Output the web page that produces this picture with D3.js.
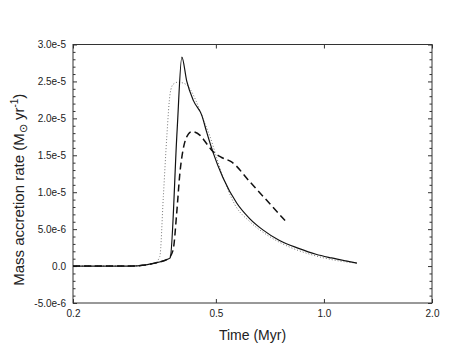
<!DOCTYPE html>
<html>
<head>
<meta charset="utf-8">
<script src="https://cdn.jsdelivr.net/npm/d3@7"></script>
<style>
  body { margin: 0; background: #fff; }
  text { font-family: "Liberation Sans", Arial, Helvetica, sans-serif; fill: #222; }
</style>
</head>
<body>
<svg id="chart" width="458" height="351"></svg>
<script>
// Values
const solidTime = [0.2, 0.288, 0.317, 0.338, 0.368, 0.373, 0.390, 0.402, 0.415, 0.433, 0.457, 0.471, 0.491, 0.523, 0.572, 0.622, 0.676, 0.75, 0.85, 0.95, 1.05, 1.15, 1.236];
const solidRate = [0, 0, 1.4e-7, 4e-7, 9.5e-7, 1.1e-6, 1.84e-5, 2.83e-5, 2.5e-5, 2.24e-5, 2.04e-5, 1.82e-5, 1.54e-5, 1.2e-5, 8.5e-6, 6.4e-6, 4.9e-6, 3.5e-6, 2.4e-6, 1.6e-6, 1.1e-6, 0.7e-6, 0.4e-6];

const dashedTime = [0.2, 0.288, 0.317, 0.338, 0.368, 0.380, 0.389, 0.397, 0.405, 0.413, 0.428, 0.452, 0.475, 0.491, 0.519, 0.553, 0.622, 0.708, 0.788];
const dashedRate = [0, 0, 1.4e-7, 4e-7, 1.0e-6, 2.16e-6, 7.2e-6, 1.26e-5, 1.57e-5, 1.73e-5, 1.82e-5, 1.77e-5, 1.635e-5, 1.55e-5, 1.47e-5, 1.41e-5, 1.14e-5, 8.4e-6, 5.9e-6];

const dottedTime = [0.2, 0.288, 0.317, 0.338, 0.349, 0.357, 0.365, 0.373, 0.380, 0.392, 0.413, 0.426, 0.440, 0.460, 0.481, 0.514, 0.565, 0.622, 0.70, 0.80, 0.90, 1.0, 1.1, 1.236];
const dottedRate = [0, 0, 1.4e-7, 4e-7, 1.3e-6, 9.4e-6, 1.75e-5, 2.34e-5, 2.46e-5, 2.49e-5, 2.46e-5, 2.38e-5, 2.24e-5, 2.0e-5, 1.76e-5, 1.32e-5, 8.3e-6, 6.0e-6, 4.1e-6, 2.6e-6, 1.7e-6, 1.1e-6, 0.7e-6, 0.4e-6];

const xTicks = [0.2, 0.5, 1.0, 2.0];
const yTicks = [-5e-6, 0, 5e-6, 1e-5, 1.5e-5, 2e-5, 2.5e-5, 3e-5];
const yTickLabels = ['-5.0e-6', '0.0', '5.0e-6', '1.0e-5', '1.5e-5', '2.0e-5', '2.5e-5', '3.0e-5'];
const yMinorTicks = d3.range(-4, 30).filter((d) => d % 5 !== 0).map((d) => d * 1e-6);

const svg = d3.select('#chart');

// plot frame
const margin = { top: 44.5, right: 26, bottom: 48, left: 73 };
const width = 458, height = 351;
const innerWidth = width - margin.left - margin.right;
const innerHeight = height - margin.top - margin.bottom;

const x = d3.scaleLog().domain([0.2, 2.0]).range([0, innerWidth]);
const y = d3.scaleLinear().domain([-5e-6, 3e-5]).range([innerHeight, 0]);

const g = svg.append('g').attr('transform', `translate(${margin.left},${margin.top})`);

// axes, ticks pointing inwards
const styleAxis = (sel) => {
  sel.select('.domain').remove();
  sel.selectAll('line').attr('stroke', '#333');
  sel.selectAll('text').filter(function () { return this.textContent === ''; }).remove();
  sel.selectAll('text').attr('font-size', 10).attr('fill', '#222');
};

g.append('g')
  .attr('transform', `translate(0,${innerHeight})`)
  .call(d3.axisBottom(x).tickValues(xTicks).tickFormat(d3.format('.1f')).tickSize(-4).tickPadding(7))
  .call(styleAxis);

g.append('g')
  .call(d3.axisTop(x).tickValues(xTicks).tickFormat('').tickSize(-4))
  .call(styleAxis);

g.append('g')
  .call(d3.axisLeft(y).tickValues(yTicks).tickFormat((d, i) => yTickLabels[i]).tickSize(-4).tickPadding(7))
  .call(styleAxis);

g.append('g')
  .call(d3.axisLeft(y).tickValues(yMinorTicks).tickFormat('').tickSize(-2.5))
  .call(styleAxis);

g.append('g')
  .attr('transform', `translate(${innerWidth},0)`)
  .call(d3.axisRight(y).tickValues(yTicks).tickFormat('').tickSize(-4))
  .call(styleAxis);

g.append('g')
  .attr('transform', `translate(${innerWidth},0)`)
  .call(d3.axisRight(y).tickValues(yMinorTicks).tickFormat('').tickSize(-2.5))
  .call(styleAxis);

g.append('rect')
  .attr('width', innerWidth)
  .attr('height', innerHeight)
  .attr('fill', 'none')
  .attr('stroke', '#333')
  .attr('stroke-width', 1);

// curves
const line = d3.line()
  .x((d) => x(d[0]))
  .y((d) => y(d[1]))
  .curve(d3.curveMonotoneX);

const series = [
  { t: dottedTime, v: dottedRate, stroke: '#777', width: 1, dash: '1,2' },
  { t: dashedTime, v: dashedRate, stroke: '#111', width: 1.5, dash: '7,4' },
  { t: solidTime, v: solidRate, stroke: '#111', width: 1.2, dash: null }
];

g.selectAll('path.curve')
  .data(series)
  .enter()
  .append('path')
  .attr('class', 'curve')
  .attr('d', (s) => line(s.t.map((t, i) => [t, s.v[i]])))
  .attr('fill', 'none')
  .attr('stroke', (s) => s.stroke)
  .attr('stroke-width', (s) => s.width)
  .attr('stroke-dasharray', (s) => s.dash);

// titles
svg.append('text')
  .attr('x', margin.left + innerWidth / 2)
  .attr('y', 340)
  .attr('text-anchor', 'middle')
  .attr('font-size', 14)
  .text('Time (Myr)');

const yTitle = svg.append('text')
  .attr('transform', `translate(24,${margin.top + innerHeight / 2 + 16}) rotate(-90)`)
  .attr('text-anchor', 'middle')
  .attr('font-size', 15);
yTitle.append('tspan').text('Mass accretion rate (M');
yTitle.append('tspan').attr('dy', 3).attr('font-size', 11).text('\u2299');
yTitle.append('tspan').attr('dy', -3).text(' yr');
yTitle.append('tspan').attr('dy', -6).attr('font-size', 10).text('-1');
yTitle.append('tspan').attr('dy', 6).text(')');
</script>
</body>
</html>
